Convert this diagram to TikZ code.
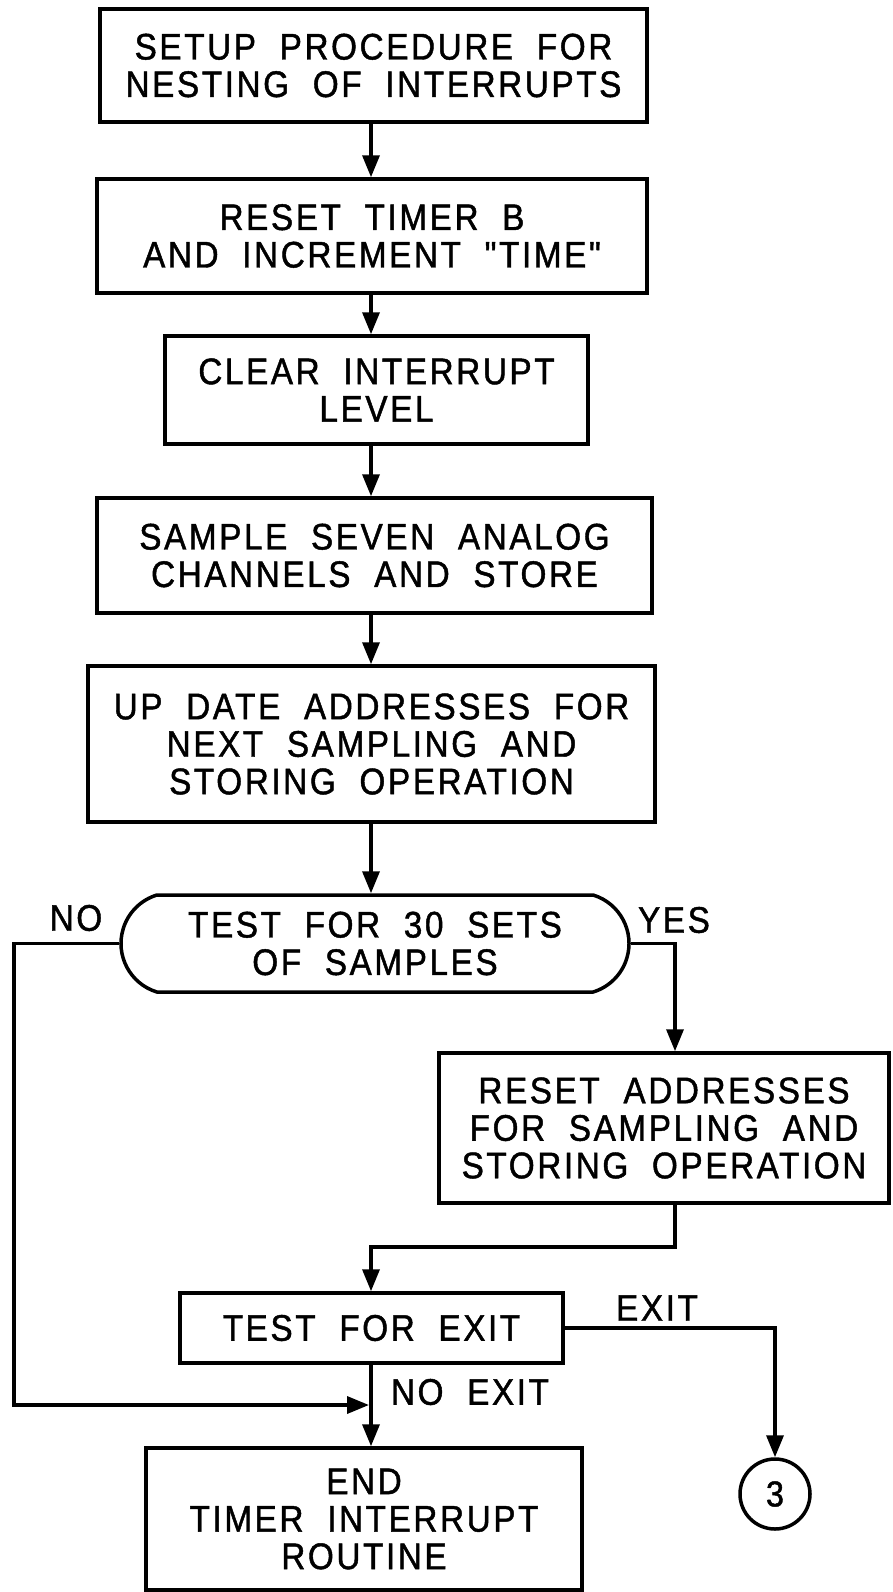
\documentclass[tikz,border=0pt]{standalone}
\usepackage{fontspec}
\setmainfont{Liberation Sans}[Ligatures=TeXOff,FakeBold=1.2,FakeStretch=0.9,LetterSpace=7,WordSpace=2]
\usetikzlibrary{arrows.meta,shapes.misc}
\newcommand\lbltxt{\fontsize{37pt}{37.5pt}\selectfont}
\tikzset{
  box/.style={draw, line width=3.5pt, inner sep=0pt, align=center, font=\lbltxt},
  term/.style={draw, line width=3.5pt, rounded rectangle, rounded rectangle arc length=146,
    inner sep=0pt, align=center, font=\lbltxt},
  arr/.style={line width=3.5pt, -{Triangle[length=22pt,width=17pt]}},
  lab/.style={inner sep=0pt, font=\lbltxt},
  conn/.style={draw, circle, line width=3.5pt, inner sep=0pt, minimum size=70pt,
    font=\fontsize{36pt}{36pt}\selectfont}
}
\begin{document}
\begin{tikzpicture}[x=1pt,y=-1pt]
\useasboundingbox (0,0) rectangle (892,1592);
\coordinate (cx) at (371,0);
% boxes
\node[box, minimum width=547pt, minimum height=113pt] (b1) at (373.5,65.5) {SETUP PROCEDURE FOR\\NESTING OF INTERRUPTS};
\node[box, minimum width=550pt, minimum height=114pt] (b2) at (372,236) {RESET TIMER B\\AND INCREMENT "TIME"};
\node[box, minimum width=423pt, minimum height=108pt] (b3) at (376.5,390) {CLEAR INTERRUPT\\LEVEL};
\node[box, minimum width=555pt, minimum height=115pt] (b4) at (374.5,555.5) {SAMPLE SEVEN ANALOG\\CHANNELS AND STORE};
\node[box, minimum width=567pt, minimum height=156pt] (b5) at (371.5,744) {UP DATE ADDRESSES FOR\\NEXT SAMPLING AND\\STORING OPERATION};
\node[term, minimum width=508pt, minimum height=97pt] (t) at (375,943.5) {TEST FOR 30 SETS\\OF SAMPLES};
\node[box, minimum width=450pt, minimum height=150pt] (b6) at (664,1128) {RESET ADDRESSES\\FOR SAMPLING AND\\STORING OPERATION};
\node[box, minimum width=383pt, minimum height=70pt] (b7) at (371.5,1328) {TEST FOR EXIT};
\node[box, minimum width=436pt, minimum height=142pt] (b8) at (364,1519) {END\\TIMER INTERRUPT\\ROUTINE};
\node[conn] (c3) at (775,1494) {3};
% labels
\node[lab] (lno) at (76,918) {NO};
\node[lab] (lyes) at (674,920) {YES};
\node[lab] (lexit) at (657,1308) {EXIT};
\node[lab] (lnoexit) at (470,1392) {NO EXIT};
% helper coordinates
\coordinate (noleft) at (14,943.5);
\coordinate (nojoin) at (369,1405);
\coordinate (yesx) at (675,943.5);
\coordinate (b6b7) at (675,1247);
% main column
\draw[arr] (b1.south -| cx) -- (b2.north -| cx);
\draw[arr] (b2.south -| cx) -- (b3.north -| cx);
\draw[arr] (b3.south -| cx) -- (b4.north -| cx);
\draw[arr] (b4.south -| cx) -- (b5.north -| cx);
\draw[arr] (b5.south -| cx) -- (t.north -| cx);
% yes branch
\draw[arr] (t.east) -- (yesx) -- (yesx |- b6.north);
\draw[arr] (b6.south -| yesx) -- (b6b7) -| (b7.north -| cx);
% no branch
\draw[arr] (t.west) -- (noleft) |- (nojoin);
% exit
\draw[arr] (b7.south -| cx) -- (b8.north -| cx);
\draw[arr] (b7.east) -| (c3.north);
\end{tikzpicture}
\end{document}
